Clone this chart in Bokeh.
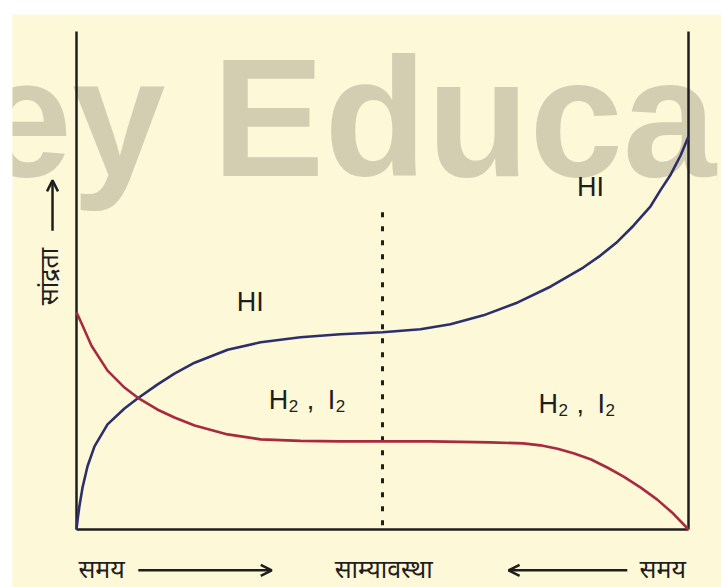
from bokeh.plotting import figure
from bokeh.models import Range1d, Arrow, OpenHead
from bokeh.core.properties import value
from bokeh.embed import file_html
from bokeh.resources import INLINE
import math

# ---- data (time 0..100, concentration 0..100) ----
hi_time = [0, 0.2, 0.49, 0.98, 1.8, 2.94, 5.07, 7.84, 9.97, 13.2, 16.0, 19.3, 24.7, 30.1, 36.6,
           43.1, 50.0, 56.2, 61.1, 66.5, 72.1, 77.5, 82.8, 85.6, 88.4, 91.0, 93.8, 95.4, 97.1,
           98.7, 100]
hi_conc = [0, 2.2, 4.8, 8.4, 12.7, 16.7, 21.1, 24.3, 26.3, 29.1, 31.3, 33.5, 36.1, 37.6, 38.6,
           39.2, 39.6, 40.2, 41.2, 43.0, 45.6, 48.8, 52.6, 55.0, 57.8, 61.0, 64.9, 68.1, 71.3,
           75.1, 78.9]
h2_time = [0, 0.82, 2.45, 5.07, 7.84, 9.97, 13.2, 16.0, 19.3, 24.7, 30.1, 36.6, 43.1, 50.0,
           57.8, 67.6, 73.0, 75.8, 78.6, 81.2, 84.0, 86.8, 89.4, 92.2, 94.9, 97.5, 100]
h2_conc = [43.6, 41.4, 36.9, 31.9, 28.5, 26.5, 24.1, 22.5, 20.9, 19.1, 18.1, 17.8, 17.7, 17.7,
           17.7, 17.5, 17.3, 16.9, 16.2, 15.3, 14.1, 12.4, 10.6, 8.4, 6.0, 3.2, 0]
equilibrium_time = 50.0
equilibrium_top = 63.7
axis_top = 100

hi_labels = ["HI", "HI"]
hi_label_x = [28.4, 84.0]
hi_label_y = [45.6, 68.7]

# "H2 , I2" labels: anchor (left of H, baseline) and their pieces
h2_anchor_x = [31.4, 75.5]
h2_anchor_y = [26.1, 25.3]
h2_main_parts = ["H", ",", "I"]
h2_sub_parts = ["2", "2"]

bottom_labels = ["समय", "साम्यावस्था", "समय"]
bottom_label_x = [4.1, 50.2, 95.8]
bottom_label_y = [-7.8, -7.8, -7.8]
y_label = "सांद्रता"
watermark = "ey Educa"

INK = "#1E1E1E"
BG = "#FDF8D8"
PX_Y = 4.98   # pixels per y unit

p = figure(width=721, height=587, output_backend="svg", toolbar_location=None,
           x_axis_type=None, y_axis_type=None,
           x_range=Range1d(-10.458, 105.392), y_range=Range1d(-11.647, 103.414),
           min_border_left=12, min_border_top=14, min_border_right=0, min_border_bottom=0)
p.background_fill_color = BG
p.border_fill_color = "white"
p.outline_line_color = None
p.grid.visible = False

# watermark
p.text(x=[-16.0], y=[82.7], text=[watermark], text_font=value("Liberation Sans"),
       text_font_style="bold", text_font_size="168px", text_color="#D3CEB2",
       text_baseline="alphabetic", text_align="left")

# axes frame lines
p.segment(x0=[0, 100, 0], y0=[0, 0, 0], x1=[0, 100, 100], y1=[axis_top, axis_top, 0],
          line_color=INK, line_width=2.5)

# equilibrium dotted line
p.line(x=[equilibrium_time, equilibrium_time], y=[equilibrium_top, 0], line_color=INK,
       line_width=3, line_dash="5 9")

# curves
p.line(hi_time, hi_conc, line_color="#2C2F6A", line_width=2.6, line_join="round")
p.line(h2_time, h2_conc, line_color="#A82A3E", line_width=2.6, line_join="round")

# curve labels
p.text(x=hi_label_x, y=hi_label_y, text=hi_labels, text_font=value("Liberation Sans"),
       text_font_size="27px", text_color=INK, text_align="center", text_baseline="middle")

main_dx = [0, 38, 59]
sub_dx = [20, 67]
for ax, ay in zip(h2_anchor_x, h2_anchor_y):
    p.text(x=[ax] * 3, y=[ay] * 3, text=h2_main_parts, x_offset=main_dx,
           text_font=value("Liberation Sans"), text_font_size="27px", text_color=INK,
           text_align="left", text_baseline="alphabetic")
    p.text(x=[ax] * 2, y=[ay - 6 / PX_Y] * 2, text=h2_sub_parts, x_offset=sub_dx,
           text_font=value("Liberation Sans"), text_font_size="17px", text_color=INK,
           text_align="left", text_baseline="alphabetic")

# bottom labels
p.text(x=bottom_label_x, y=bottom_label_y, text=bottom_labels, text_font=value("Noto Sans"),
       text_font_size="25px", text_color=INK, text_align="center", text_baseline="middle")
# y label
p.text(x=[-4.58], y=[50.8], text=[y_label], text_font=value("Noto Sans"),
       text_font_size="25px", text_color=INK, text_align="center", text_baseline="middle",
       angle=math.pi / 2)

# arrows
for xs, ys, xe, ye in [(10.1, -8.2, 31.9, -8.2), (90.0, -8.2, 70.6, -8.2), (-3.92, 60.0, -3.92, 70.1)]:
    p.add_layout(Arrow(x_start=xs, y_start=ys, x_end=xe, y_end=ye, line_color=INK, line_width=2.5,
                       end=OpenHead(size=11, line_color=INK, line_width=2.5)))

open("out.html", "w").write(file_html(p, INLINE))
